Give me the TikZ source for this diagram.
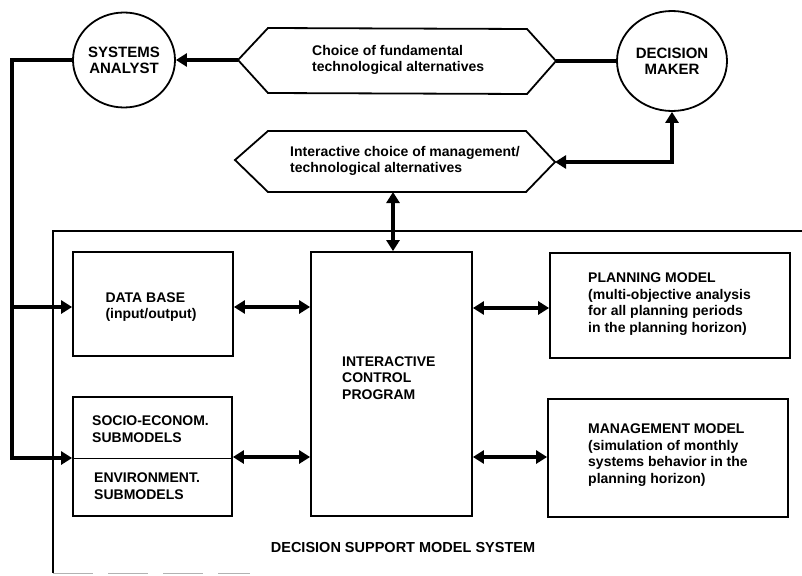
\documentclass[tikz,border=0pt]{standalone}
\usepackage{fontspec}
\setmainfont{Liberation Sans}
\usetikzlibrary{arrows.meta,shapes.geometric}
\begin{document}
\begin{tikzpicture}[x=1pt,y=-1pt,
  box/.style={draw,line width=1.8pt,rectangle,inner sep=0pt},
  agent/.style={draw,line width=1.8pt,ellipse,inner sep=0pt,align=center,font=\fontsize{15}{16}\selectfont\bfseries},
  txt/.style={align=left,inner sep=0pt,font=\fontsize{14}{16.5}\selectfont\bfseries},
  hexline/.style={line width=1.8pt,line join=miter},
  conn/.style={line width=4.5pt},
  tip/.style={-{Triangle[length=11pt,width=13pt]}},
  dtip/.style={{Triangle[length=11pt,width=13pt]}-{Triangle[length=11pt,width=13pt]}}]
\useasboundingbox (0,0) rectangle (802,575);
\fill[white] (0,0) rectangle (802,575);
% outer system frame
\draw[line width=1.5pt] (802,231) -- (53,231) -- (53,573);
\draw[line width=1pt,gray!60,dash pattern=on 40pt off 15pt] (53,573) -- (250,573);
\node[txt,font=\fontsize{14.5}{14}\selectfont\bfseries] (dsms) at (403,548) {DECISION SUPPORT MODEL SYSTEM};
% agents
\node[agent,minimum width=102pt,minimum height=95pt] (sa) at (124,60) {SYSTEMS\\ANALYST};
\node[agent,minimum width=110pt,minimum height=100pt] (dm) at (672,61) {DECISION\\MAKER};
% hexagon 1
\coordinate (h1l) at (238,60);
\coordinate (h1r) at (556,61);
\draw[hexline] (h1l) -- (268,28) -- (527,29) -- (h1r) -- (527,94) -- (268,93) -- cycle;
\node[txt,anchor=west] (h1t) at (312,60) {Choice of fundamental\\technological alternatives};
% hexagon 2
\coordinate (h2l) at (235,160);
\coordinate (h2r) at (555,162);
\coordinate (h2b) at (393,192);
\draw[hexline] (h2l) -- (268,131) -- (526,131) -- (h2r) -- (526,192) -- (268,192) -- cycle;
\node[txt,anchor=west] (h2t) at (290,161) {Interactive choice of management/\\technological alternatives};
% boxes
\node[box,minimum width=160pt,minimum height=104pt] (db) at (153,304) {};
\node[txt] (dbt) at (151,307) {DATA BASE\\(input/output)};
\node[box,minimum width=159pt,minimum height=119pt] (sub) at (152.5,456.5) {};
\draw[line width=1pt] (sub.west |- 0,458) -- (sub.east |- 0,458);
\node[txt,anchor=west] (sot) at (92,429) {SOCIO-ECONOM.\\SUBMODELS};
\node[txt,anchor=west] (ent) at (94,486) {ENVIRONMENT.\\SUBMODELS};
\node[box,minimum width=161pt,minimum height=264pt] (icp) at (391.5,384) {};
\node[txt,anchor=west] (icpt) at (342,378) {INTERACTIVE\\CONTROL\\PROGRAM};
\node[box,minimum width=240pt,minimum height=105pt] (pm) at (670,305.5) {};
\node[txt,anchor=west] (pmt) at (588,304) {PLANNING MODEL\\(multi-objective analysis\\for all planning periods\\in the planning horizon)};
\node[box,minimum width=240pt,minimum height=118pt] (mm) at (668,458) {};
\node[txt,anchor=west] (mmt) at (588,455) {MANAGEMENT MODEL\\(simulation of monthly\\systems behavior in the\\planning horizon)};
% connectors
\draw[conn,tip] (h1l) -- (sa.east |- h1l);
\draw[conn] (h1r) -- (dm.west |- h1r);
\draw[conn,dtip] (dm.south) -- (dm.south |- h2r) -- (h2r);
\draw[conn,dtip] (h2b) -- (icp.north -| h2b);
\coordinate (fb) at (12,60);
\draw[conn,tip,line join=miter] (sa.west |- fb) -- (fb) -- (12,458) -- (sub.west |- 0,458);
\draw[conn,tip] (12,307) -- (db.west |- 0,307);
\draw[conn,dtip] (db.east |- 0,307) -- (icp.west |- 0,307);
\draw[conn,dtip] (sub.east |- 0,457) -- (icp.west |- 0,457);
\draw[conn,dtip] (icp.east |- 0,308) -- (pm.west |- 0,308);
\draw[conn,dtip] (icp.east |- 0,457) -- (mm.west |- 0,457);
\end{tikzpicture}
\end{document}
